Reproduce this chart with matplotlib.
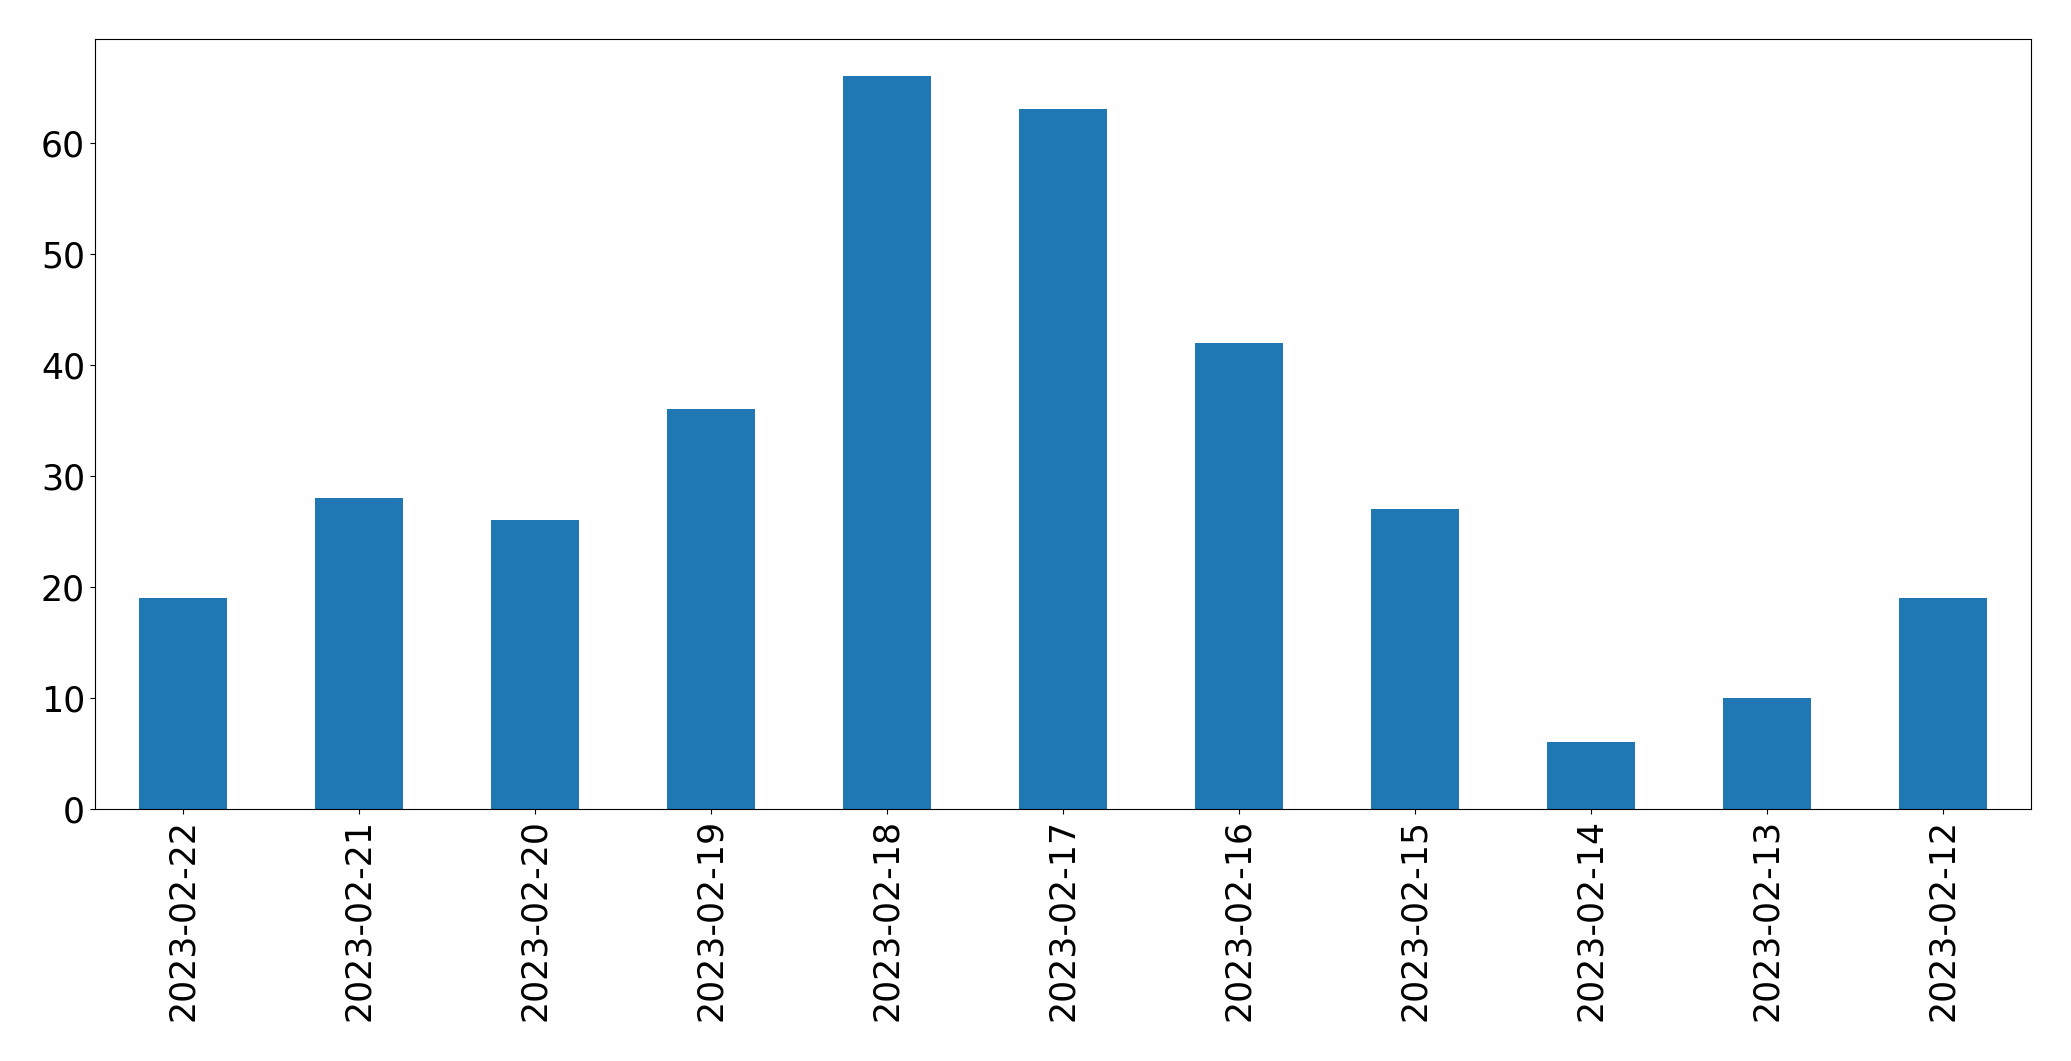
import matplotlib
matplotlib.use("Agg")
import matplotlib.pyplot as plt

dates = [
    "2023-02-22", "2023-02-21", "2023-02-20", "2023-02-19", "2023-02-18",
    "2023-02-17", "2023-02-16", "2023-02-15", "2023-02-14", "2023-02-13",
    "2023-02-12",
]
counts = [19, 28, 26, 36, 66, 63, 42, 27, 6, 10, 19]

fig = plt.figure(figsize=(20.71, 10.61), dpi=100)
ax = fig.add_axes([94.7 / 2071, 1 - 809 / 1061, (2031 - 94.7) / 2071, (809 - 39.3) / 1061])

positions = list(range(len(dates)))
ax.bar(positions, counts, width=0.5, color="#1f77b4")
ax.set_xlim(-0.5, len(dates) - 0.5)
ax.set_ylim(0, max(counts) * 1.05)
ax.set_xticks(positions)
ax.set_xticklabels(dates, rotation=90)
ax.tick_params(labelsize=25)

fig.savefig("out.png", dpi=100)
